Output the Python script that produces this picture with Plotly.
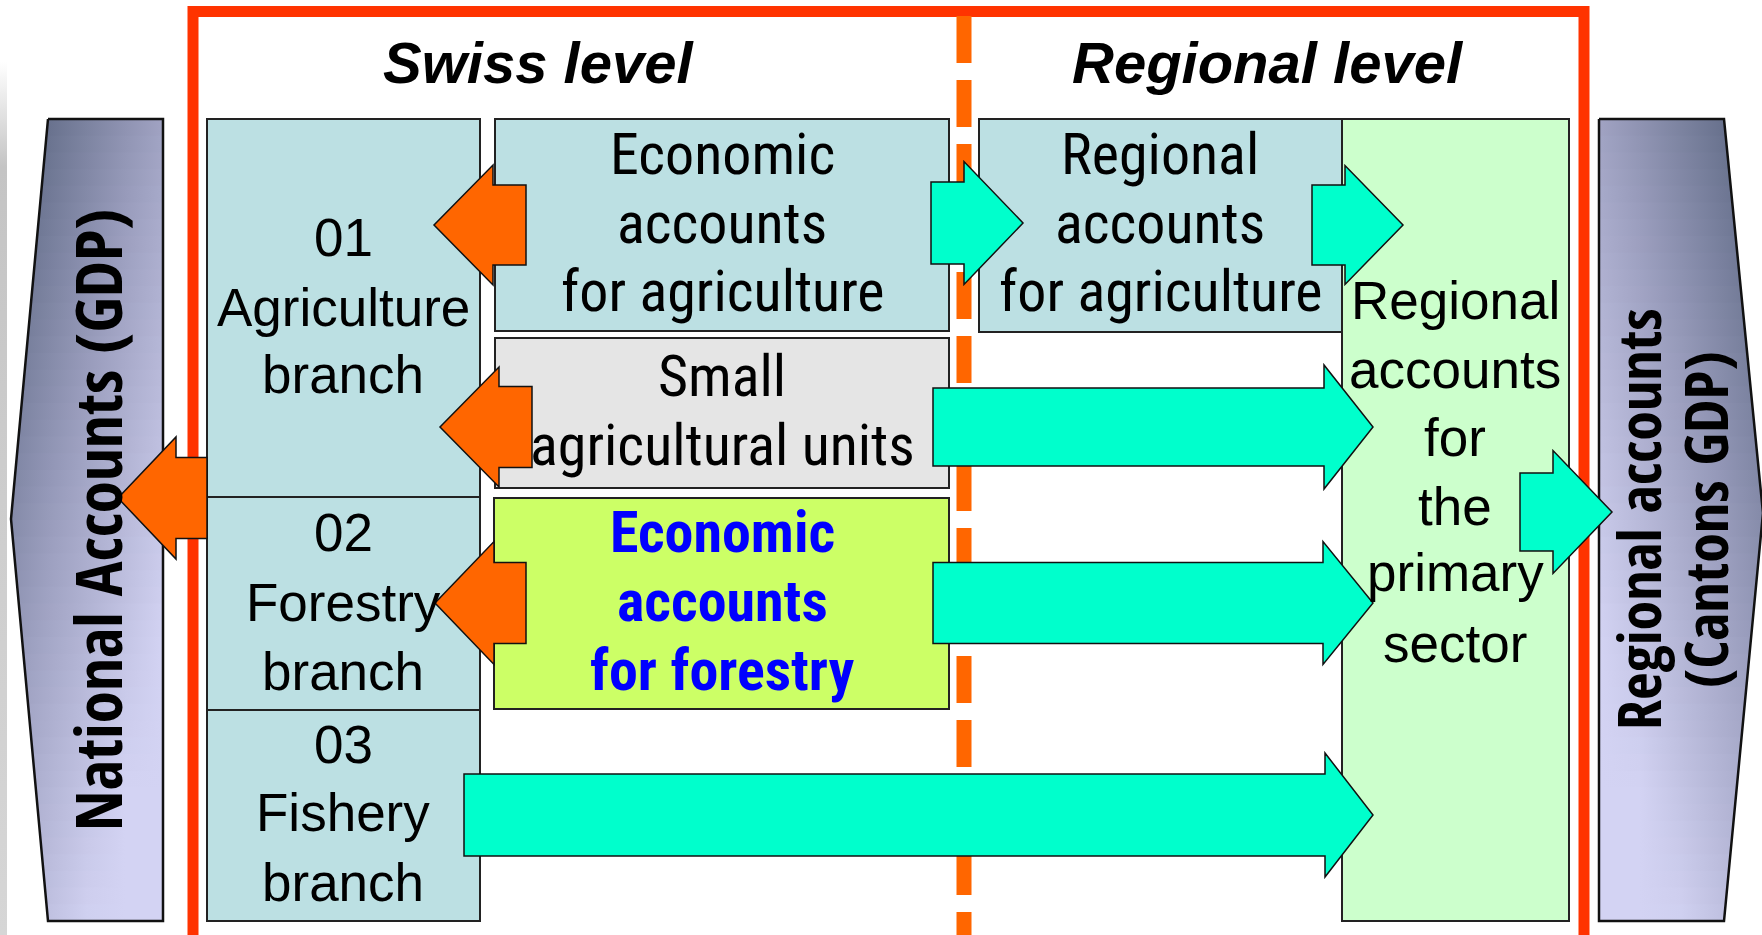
import plotly.graph_objects as go

W, H = 1762, 935

# ---------------- diagram content ----------------
level_titles = ["Swiss level", "Regional level"]
level_title_x = [538, 1268]
level_title_y = [62, 62]

# boxes
box_x0 = [207, 207, 207, 495, 495, 494, 979, 1342]
box_x1 = [480, 480, 480, 949, 949, 949, 1342, 1569]
box_y0 = [119, 497, 710, 119, 338, 498, 119, 119]
box_y1 = [497, 710, 921, 331, 488, 709, 332, 921]
box_fill = ["#BCE0E3", "#BCE0E3", "#BCE0E3", "#BCE0E3", "#E5E5E5", "#CCFF66", "#BCE0E3", "#CCFFCC"]

# branch texts (regular font)
branch_lines = ["01", "Agriculture", "branch", "02", "Forestry", "branch", "03", "Fishery", "branch"]
branch_line_y = [237, 307, 374, 532, 602, 671, 744, 812, 882]
branch_x = 343

primary_lines = ["Regional", "accounts", "for", "the", "primary", "sector"]
primary_line_y = [300, 369, 437, 506, 572, 643]
primary_x = 1455

# narrow-font box texts
eaa_lines = ["Economic", "accounts", "for agriculture"]
eaa_line_y = [154, 223, 291]
eaa_x = 722

small_lines = ["Small", "agricultural units"]
small_line_y = [376, 445]
small_x = 722

raa_lines = ["Regional", "accounts", "for agriculture"]
raa_line_y = [154, 223, 291]
raa_x = 1160

eaf_lines = ["Economic", "accounts", "for forestry"]
eaf_line_y = [532, 601, 670]
eaf_x = 722

# vertical side labels
side_labels = ["National Accounts (GDP)", "Regional accounts", "(Cantons GDP)"]
side_label_x = [97, 1638, 1705]
side_label_y = [520, 519, 520]
side_label_size = [65, 60, 60]

# arrows: tail x, head-base x, tip x, centre y, shaft half-height, head half-height
orange_tail = [526, 532, 526, 207]
orange_head = [493, 499, 494, 176]
orange_tip = [434, 440, 435, 118]
orange_cy = [225, 427, 603, 498]
orange_sh = [40, 40.5, 40.5, 40.5]
orange_hh = [60, 60, 61.5, 61]

teal_tail = [931, 1312, 933, 933, 464, 1520]
teal_head = [964, 1345, 1324, 1323, 1325, 1553]
teal_tip = [1023, 1403, 1373, 1373, 1373, 1612]
teal_cy = [223, 225, 427, 603, 815, 512]
teal_sh = [41, 40, 39, 40.5, 41, 39]
teal_hh = [61.5, 59.5, 62, 61.5, 62, 61.5]

# gray pentagons
nat_pts_x = [48, 163, 163, 48, 11]
nat_pts_y = [119, 119, 921, 921, 519]
reg_pts_x = [1599, 1724, 1763, 1724, 1599]
reg_pts_y = [119, 119, 513, 921, 921]

FONT_REG = "Liberation Sans, Arial, sans-serif"
FONT_NAR = "Roboto Condensed, Liberation Sans Narrow, Arial Narrow, sans-serif"
FONT_NAR_B = "Open Sans Condensed, Roboto Condensed, Arial Narrow, sans-serif"
NAR_SIZE = 58
EAF_SIZE = 58

fig = go.Figure()


def hex2rgb(h):
    h = h.lstrip("#")
    return tuple(int(h[i:i + 2], 16) for i in (0, 2, 4))


STOPS = [(0.0, hex2rgb("#55617B")), (0.5, hex2rgb("#9A9DBD")), (1.0, hex2rgb("#D3D3F3"))]


def cmap(t):
    t = max(0.0, min(1.0, t))
    for (t0, c0), (t1, c1) in zip(STOPS[:-1], STOPS[1:]):
        if t <= t1:
            f = (t - t0) / (t1 - t0)
            c = [round(c0[k] + (c1[k] - c0[k]) * f) for k in range(3)]
            return "rgb(%d,%d,%d)" % tuple(c)
    return "rgb(%d,%d,%d)" % STOPS[-1][1]


def edge_x(ys, xs, y, side):
    if side == "left":
        a = (xs[0], ys[0]); m = (xs[4], ys[4]); b = (xs[3], ys[3])
    else:
        a = (xs[1], ys[1]); m = (xs[2], ys[2]); b = (xs[3], ys[3])
    if y <= m[1]:
        return a[0] + (m[0] - a[0]) * (y - a[1]) / (m[1] - a[1])
    return m[0] + (b[0] - m[0]) * (y - m[1]) / (b[1] - m[1])


def gradient_pentagon(xs, ys, side):
    ytop, ybot = ys[0], ys[3]
    ymid = ys[4] if side == "left" else ys[2]
    xmin, xmax = min(xs), max(xs)
    n = 48
    edges = [ytop + (ybot - ytop) * i / n for i in range(n + 1)]
    for i in range(n):
        ya, yb = edges[i], min(edges[i + 1] + 1.2, ybot)
        pts_y = [ya] + ([ymid] if ya < ymid < yb else []) + [yb]
        ex = [edge_x(ys, xs, y, side) for y in pts_y]
        v = ((ya + yb) / 2 - ytop) / (ybot - ytop)
        if side == "left":
            flat = xs[1]
            px = ex + [flat, flat]
            py = pts_y + [yb, ya]
            cs = [[p, cmap(0.55 * p + 0.7 * v)] for p in (0, 0.25, 0.5, 0.75, 1)]
        else:
            flat = xs[0]
            px = [flat, flat] + ex[::-1]
            py = [ya, yb] + pts_y[::-1]
            cs = [[p, cmap(0.55 * (1 - p) + 0.7 * v)] for p in (0, 0.25, 0.5, 0.75, 1)]
        fig.add_trace(go.Scatter(
            x=px + [px[0]], y=py + [py[0]], mode="lines", fill="toself",
            line=dict(width=0), hoverinfo="skip", showlegend=False,
            fillgradient=dict(type="horizontal", start=xmin, stop=xmax, colorscale=cs)))
    fig.add_trace(go.Scatter(
        x=xs + [xs[0]], y=ys + [ys[0]], mode="lines",
        line=dict(color="#111111", width=2.5), hoverinfo="skip", showlegend=False))


# faint photo edge at far left
fig.add_trace(go.Scatter(
    x=[0, 7, 7, 0, 0], y=[62, 62, 935, 935, 62], mode="lines", fill="toself",
    line=dict(width=0), hoverinfo="skip", showlegend=False,
    fillgradient=dict(type="vertical", start=62, stop=935,
                      colorscale=[[0, "#ffffff"], [0.12, "#c4c4c4"], [0.5, "#cdcdcd"], [1, "#d6d6d6"]])))

gradient_pentagon(nat_pts_x, nat_pts_y, "left")
gradient_pentagon(reg_pts_x, reg_pts_y, "right")

shapes = []
# red frame
shapes.append(dict(type="rect", xref="x", yref="y", x0=193, x1=1584, y0=11.5, y1=941,
                   line=dict(color="#FF3300", width=11), fillcolor="rgba(0,0,0,0)", layer="above"))
# dashed separator
shapes.append(dict(type="line", xref="x", yref="y", x0=964, x1=964, y0=16, y1=935,
                   line=dict(color="#FF6600", width=15, dash="47px,17px"), layer="above"))
# boxes
for x0, x1, y0, y1, fc in zip(box_x0, box_x1, box_y0, box_y1, box_fill):
    shapes.append(dict(type="rect", xref="x", yref="y", x0=x0, x1=x1, y0=y0, y1=y1,
                       line=dict(color="#222222", width=2), fillcolor=fc, layer="above"))


def arrow_path(tail, head, tip, cy, sh, hh):
    pts = [(tail, cy - sh), (head, cy - sh), (head, cy - hh), (tip, cy),
           (head, cy + hh), (head, cy + sh), (tail, cy + sh)]
    return "M " + " L ".join("%g,%g" % p for p in pts) + " Z"


for args in zip(orange_tail, orange_head, orange_tip, orange_cy, orange_sh, orange_hh):
    shapes.append(dict(type="path", xref="x", yref="y", path=arrow_path(*args),
                       fillcolor="#FF6600", line=dict(color="#111111", width=1.5), layer="above"))
for args in zip(teal_tail, teal_head, teal_tip, teal_cy, teal_sh, teal_hh):
    shapes.append(dict(type="path", xref="x", yref="y", path=arrow_path(*args),
                       fillcolor="#00FFCC", line=dict(color="#111111", width=1.5), layer="above"))

ann = []


def add_text(txt, x, y, family, size, color="black", weight="normal", style="normal", angle=0):
    ann.append(dict(text=txt, x=x, y=y, xref="x", yref="y", showarrow=False,
                    xanchor="center", yanchor="middle", textangle=angle,
                    font=dict(family=family, size=size, color=color, weight=weight, style=style)))


for t, x, y in zip(level_titles, level_title_x, level_title_y):
    add_text(t, x, y, FONT_REG, 58, weight="bold", style="italic")
for t, y in zip(branch_lines, branch_line_y):
    add_text(t, branch_x, y, FONT_REG, 53)
for t, y in zip(primary_lines, primary_line_y):
    add_text(t, primary_x, y, FONT_REG, 53)
for t, y in zip(eaa_lines, eaa_line_y):
    add_text(t, eaa_x, y, FONT_NAR, NAR_SIZE)
for t, y in zip(small_lines, small_line_y):
    add_text(t, small_x, y, FONT_NAR, NAR_SIZE)
for t, y in zip(raa_lines, raa_line_y):
    add_text(t, raa_x, y, FONT_NAR, NAR_SIZE)
for t, y in zip(eaf_lines, eaf_line_y):
    add_text(t, eaf_x, y, FONT_NAR, EAF_SIZE, color="#0000FF", weight="bold")
for t, x, y, s in zip(side_labels, side_label_x, side_label_y, side_label_size):
    add_text(t, x, y, FONT_NAR_B, s, weight="bold", angle=-90)

fig.update_layout(
    width=W, height=H, margin=dict(l=0, r=0, t=0, b=0),
    paper_bgcolor="white", plot_bgcolor="white",
    xaxis=dict(range=[0, W], visible=False, fixedrange=True),
    yaxis=dict(range=[H, 0], visible=False, fixedrange=True),
    shapes=shapes, annotations=ann, showlegend=False,
)

fig.write_html("out.html", config={"displayModeBar": False},
               post_script="document.body.style.margin='0';")
